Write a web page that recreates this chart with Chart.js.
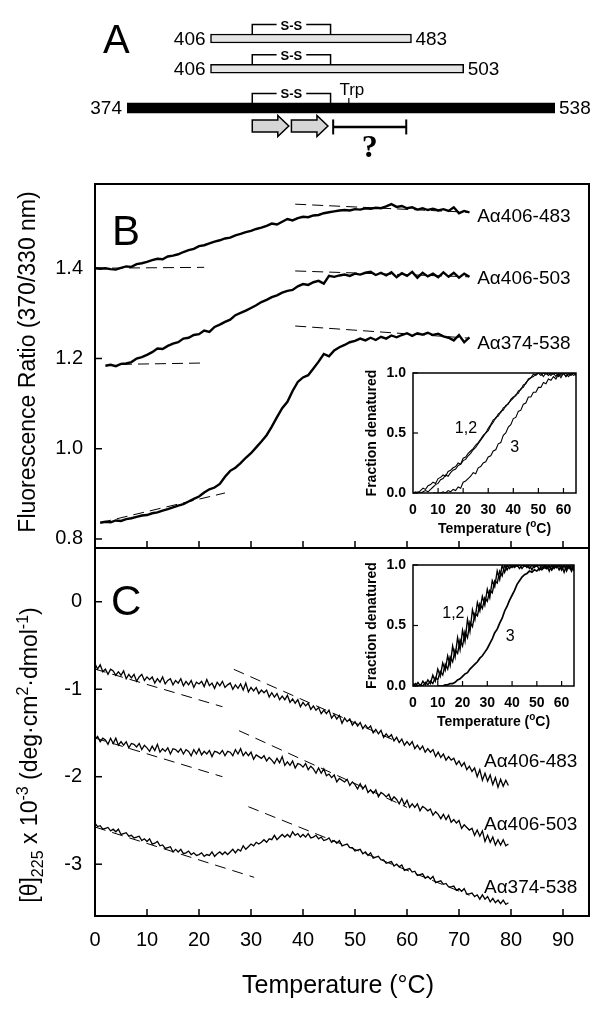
<!DOCTYPE html>
<html>
<head>
<meta charset="utf-8">
<script src="https://cdn.jsdelivr.net/npm/chart.js@4.4.1/dist/chart.umd.min.js"></script>
<style>
  html, body { margin: 0; padding: 0; background: #fff; }
  #wrap { position: relative; width: 604px; height: 1009px; overflow: hidden; background: #fff; }
  #wrap canvas { position: absolute; left: 0; top: 0; }
</style>
</head>
<body>
<div id="wrap">
  <canvas id="chartA" width="604" height="1009"></canvas>
  <canvas id="chartB" width="604" height="1009"></canvas>
  <canvas id="chartC" width="604" height="1009"></canvas>
  <canvas id="insetB" width="604" height="1009"></canvas>
  <canvas id="insetC" width="604" height="1009"></canvas>
</div>
<script>
// --- PANEL A: fragmentos (residuos) ---
const fragStart = [406, 406, 374];
const fragEnd = [483, 503, 538];
const ssBond = [422, 452];
const trpResidue = 459;
const strandSpans = [[422, 436], [437, 451]];
const unknownSpan = [453, 481];

// --- PANEL B: fluorescencia 370/330 nm ---
const tempB = [0,1,2,3,4,5,6,7,8,9,10,11,12,13,14,15,16,17,18,19,20,21,22,23,24,25,26,27,28,29,
  30,31,32,33,34,35,36,37,38,39,40,41,42,43,44,45,46,47,48,49,50,51,52,53,54,55,56,57,58,59,
  60,61,62,63,64,65,66,67,68,69,70,71,72];
const fluor406_483 = [1.400,1.399,1.400,1.398,1.397,1.401,1.404,1.403,1.409,1.411,
  1.414,1.418,1.421,1.420,1.426,1.428,1.431,1.436,1.440,1.443,
  1.449,1.451,1.455,1.459,1.462,1.466,1.468,1.473,1.476,1.480,
  1.483,1.487,1.490,1.494,1.499,1.497,1.503,1.509,1.506,1.511,
  1.514,1.513,1.517,1.518,1.522,1.524,1.526,1.528,1.529,1.528,
  1.531,1.530,1.533,1.532,1.534,1.533,1.537,1.542,1.536,1.538,
  1.533,1.535,1.530,1.533,1.529,1.532,1.528,1.531,1.527,1.535,
  1.522,1.527,1.524];
const fluor406_503 = [null,null,1.184,1.186,1.183,1.188,1.189,1.192,1.200,1.203,
  1.208,1.214,1.222,1.221,1.228,1.233,1.236,1.244,1.246,1.252,
  1.254,1.262,1.259,1.270,1.275,1.281,1.286,1.296,1.301,1.306,
  1.312,1.318,1.325,1.330,1.336,1.340,1.346,1.350,1.352,1.360,
  1.365,1.363,1.369,1.372,1.366,1.383,1.381,1.384,1.386,1.383,
  1.388,1.386,1.390,1.392,1.385,1.390,1.384,1.391,1.380,1.389,
  1.383,1.392,1.379,1.390,1.382,1.388,1.380,1.391,1.381,1.390,
  1.379,1.388,1.381];
const fluor374_538 = [null,0.836,0.838,0.837,0.841,0.840,0.844,0.846,0.849,0.852,
  0.853,0.857,0.859,0.863,0.866,0.870,0.874,0.877,0.883,0.889,
  0.894,0.903,0.910,0.914,0.922,0.938,0.951,0.958,0.968,0.980,
  0.990,1.003,1.016,1.030,1.049,1.070,1.090,1.104,1.128,1.148,
  1.158,1.163,1.178,1.193,1.210,1.205,1.218,1.225,1.230,1.236,
  1.239,1.244,1.240,1.246,1.241,1.248,1.244,1.251,1.247,1.252,
  1.256,1.250,1.256,1.253,1.257,1.252,1.255,1.249,1.246,1.240,
  1.252,1.236,1.247];
// líneas base (temperatura, valor)
const fluorBaselines = [
  [[0, 1.400], [21, 1.402]], [[38.5, 1.542], [72, 1.524]],
  [[5, 1.187], [21, 1.190]], [[38.5, 1.394], [72, 1.381]],
  [[1, 0.836], [25, 0.902]], [[38.5, 1.272], [72, 1.245]]
];
const fluorTicks = [0.8, 1.0, 1.2, 1.4];
const fluorTickLabels = ['0.8', '1.0', '1.2', '1.4'];

// --- PANEL C: elipticidad [θ]225 ---
const tempC = [0,0.5,1,1.5,2,2.5,3,3.5,4,4.5, 5,5.5,6,6.5,7,7.5,8,8.5,9,9.5,
  10,10.5,11,11.5,12,12.5,13,13.5,14,14.5, 15,15.5,16,16.5,17,17.5,18,18.5,19,19.5,
  20,20.5,21,21.5,22,22.5,23,23.5,24,24.5, 25,25.5,26,26.5,27,27.5,28,28.5,29,29.5,
  30,30.5,31,31.5,32,32.5,33,33.5,34,34.5, 35,35.5,36,36.5,37,37.5,38,38.5,39,39.5,
  40,40.5,41,41.5,42,42.5,43,43.5,44,44.5, 45,45.5,46,46.5,47,47.5,48,48.5,49,49.5,
  50,50.5,51,51.5,52,52.5,53,53.5,54,54.5, 55,55.5,56,56.5,57,57.5,58,58.5,59,59.5,
  60,60.5,61,61.5,62,62.5,63,63.5,64,64.5, 65,65.5,66,66.5,67,67.5,68,68.5,69,69.5,
  70,70.5,71,71.5,72,72.5,73,73.5,74,74.5, 75,75.5,76,76.5,77,77.5,78,78.5,79,79.5];
const theta406_483 = [-0.71,-0.77,-0.72,-0.80,-0.77,-0.83,-0.77,-0.79,-0.84,-0.80,
  -0.84,-0.79,-0.88,-0.83,-0.87,-0.83,-0.91,-0.86,-0.83,-0.90,
  -0.86,-0.89,-0.86,-0.93,-0.88,-0.92,-0.86,-0.94,-0.90,-0.88,
  -0.95,-0.90,-0.93,-0.88,-0.96,-0.91,-0.95,-0.90,-0.98,-0.92,
  -0.94,-0.91,-0.97,-0.89,-0.96,-0.93,-0.99,-0.92,-0.96,-0.91,
  -0.98,-0.95,-0.93,-1.00,-0.95,-0.99,-0.94,-1.01,-0.93,-1.03,
  -0.98,-1.02,-0.98,-1.05,-1.01,-1.04,-1.01,-1.09,-1.04,-1.09,
  -1.05,-1.12,-1.08,-1.12,-1.07,-1.15,-1.11,-1.16,-1.12,-1.20,
  -1.15,-1.19,-1.16,-1.23,-1.19,-1.24,-1.21,-1.28,-1.24,-1.28,
  -1.24,-1.33,-1.29,-1.34,-1.30,-1.39,-1.33,-1.37,-1.34,-1.41,
  -1.37,-1.42,-1.38,-1.45,-1.41,-1.45,-1.42,-1.50,-1.46,-1.51,
  -1.47,-1.55,-1.51,-1.55,-1.52,-1.59,-1.55,-1.61,-1.57,-1.64,
  -1.60,-1.64,-1.60,-1.68,-1.64,-1.69,-1.65,-1.72,-1.68,-1.72,
  -1.69,-1.77,-1.72,-1.78,-1.74,-1.81,-1.77,-1.81,-1.79,-1.86,
  -1.82,-1.88,-1.84,-1.92,-1.88,-1.94,-1.90,-2.00,-1.92,-2.04,
  -1.96,-2.05,-1.98,-2.09,-2.01,-2.12,-2.03,-2.11,-2.04,-2.10];
const theta406_503 = [-1.57,-1.54,-1.60,-1.56,-1.58,-1.63,-1.56,-1.62,-1.56,-1.64,
  -1.60,-1.64,-1.60,-1.67,-1.62,-1.63,-1.66,-1.62,-1.69,-1.64,
  -1.67,-1.71,-1.65,-1.70,-1.63,-1.72,-1.68,-1.71,-1.67,-1.74,
  -1.68,-1.69,-1.72,-1.68,-1.74,-1.69,-1.71,-1.76,-1.69,-1.74,
  -1.68,-1.75,-1.71,-1.74,-1.70,-1.77,-1.71,-1.72,-1.74,-1.70,
  -1.76,-1.71,-1.72,-1.76,-1.69,-1.74,-1.68,-1.76,-1.72,-1.76,
  -1.72,-1.80,-1.75,-1.77,-1.79,-1.76,-1.82,-1.78,-1.81,-1.85,
  -1.79,-1.84,-1.77,-1.87,-1.83,-1.87,-1.82,-1.90,-1.85,-1.86,
  -1.89,-1.85,-1.92,-1.88,-1.91,-1.96,-1.90,-1.96,-1.91,-1.99,
  -1.97,-2.01,-1.98,-2.06,-2.02,-2.04,-2.06,-2.03,-2.10,-2.06,
  -2.09,-2.14,-2.08,-2.14,-2.10,-2.18,-2.15,-2.19,-2.15,-2.23,
  -2.18,-2.20,-2.23,-2.20,-2.27,-2.23,-2.26,-2.31,-2.25,-2.32,
  -2.27,-2.35,-2.31,-2.35,-2.31,-2.39,-2.34,-2.36,-2.39,-2.37,
  -2.44,-2.40,-2.43,-2.48,-2.43,-2.49,-2.44,-2.52,-2.49,-2.53,
  -2.50,-2.59,-2.55,-2.58,-2.61,-2.59,-2.67,-2.61,-2.68,-2.62,
  -2.74,-2.67,-2.75,-2.69,-2.78,-2.72,-2.78,-2.72,-2.79,-2.77];
const theta374_538 = [-2.53,-2.57,-2.56,-2.60,-2.59,-2.58,-2.62,-2.60,-2.63,-2.60,
  -2.66,-2.65,-2.64,-2.68,-2.67,-2.70,-2.69,-2.68,-2.73,-2.71,
  -2.74,-2.71,-2.77,-2.76,-2.74,-2.79,-2.78,-2.82,-2.81,-2.80,
  -2.86,-2.83,-2.86,-2.83,-2.88,-2.87,-2.85,-2.89,-2.87,-2.90,
  -2.89,-2.87,-2.91,-2.89,-2.90,-2.86,-2.91,-2.88,-2.86,-2.89,
  -2.86,-2.89,-2.86,-2.83,-2.87,-2.83,-2.85,-2.79,-2.83,-2.80,
  -2.77,-2.79,-2.75,-2.77,-2.75,-2.72,-2.75,-2.71,-2.72,-2.67,
  -2.72,-2.69,-2.66,-2.69,-2.66,-2.69,-2.63,-2.67,-2.65,-2.69,
  -2.66,-2.69,-2.65,-2.70,-2.69,-2.67,-2.71,-2.69,-2.73,-2.72,
  -2.70,-2.75,-2.73,-2.76,-2.73,-2.79,-2.78,-2.77,-2.81,-2.81,
  -2.85,-2.84,-2.83,-2.88,-2.86,-2.90,-2.87,-2.93,-2.92,-2.91,
  -2.95,-2.95,-2.99,-2.98,-2.97,-3.02,-3.00,-3.03,-3.01,-3.07,
  -3.06,-3.05,-3.09,-3.08,-3.13,-3.12,-3.11,-3.16,-3.14,-3.17,
  -3.14,-3.21,-3.20,-3.19,-3.23,-3.22,-3.26,-3.26,-3.25,-3.30,
  -3.28,-3.31,-3.28,-3.34,-3.34,-3.33,-3.37,-3.35,-3.40,-3.35,
  -3.40,-3.37,-3.43,-3.39,-3.44,-3.41,-3.45,-3.41,-3.46,-3.44];
const thetaBaselines = [
  [[0, -0.77], [24.5, -1.20]], [[26.7, -0.773], [58, -1.596]],
  [[0, -1.558], [24.5, -2.00]], [[27.7, -1.474], [60, -2.35]],
  [[0, -2.575], [30.6, -3.15]], [[29.5, -2.343], [72, -3.355]]
];
const thetaTicks = [0, -1, -2, -3];
const thetaTickLabels = ['0', '-1', '-2', '-3'];

const tempTicks = [10, 20, 30, 40, 50, 60, 70, 80, 90];
const tempLabelValues = [0, 10, 20, 30, 40, 50, 60, 70, 80, 90];
const seriesNames = ['Aα406-483', 'Aα406-503', 'Aα374-538'];

// --- INSETS: fracción desnaturalizada ---
const tempInset = [0,1,2,3,4,5,6,7,8,9,10,11,12,13,14,15,16,17,18,19,20,21,22,23,24,25,26,27,28,29,
  30,31,32,33,34,35,36,37,38,39,40,41,42,43,44,45,46,47,48,49,50,51,52,53,54,55,56,57,58,59,
  60,61,62,63,64,65];
const fracB1 = [0.00,0.01,0.00,0.02,0.04,0.03,0.06,0.07,0.09,0.08,0.12,0.13,0.15,0.14,0.18,0.19,0.21,0.22,0.25,0.24,
  0.29,0.30,0.33,0.35,0.37,0.40,0.42,0.45,0.48,0.50,0.54,0.57,0.61,0.62,0.66,0.67,0.71,0.72,0.75,0.77,
  0.79,0.82,0.83,0.87,0.88,0.92,0.94,0.96,0.97,0.99,1.00,0.98,1.00,0.99,1.00,0.98,1.00,0.97,1.00,0.98,
  1.00,0.97,0.99,1.00,0.98,0.99];
const fracB2 = [0.00,0.00,0.01,0.00,0.01,0.02,0.01,0.03,0.05,0.07,0.08,0.11,0.12,0.15,0.14,0.17,0.19,0.20,0.23,0.24,
  0.27,0.28,0.31,0.33,0.36,0.38,0.41,0.44,0.47,0.50,0.52,0.56,0.59,0.63,0.64,0.68,0.69,0.73,0.74,0.78,
  0.80,0.81,0.85,0.86,0.90,0.91,0.95,0.96,0.99,0.98,1.00,1.00,0.97,1.00,0.98,1.00,0.99,1.00,0.97,1.00,
  0.99,1.00,0.97,0.99,1.00,0.98];
const fracB3 = [null,null,null,null,null,null,null,null,0.00,0.00,0.00,0.00,0.01,0.00,0.02,0.01,0.03,0.02,0.05,0.04,
  0.09,0.10,0.12,0.14,0.17,0.16,0.21,0.22,0.25,0.26,0.30,0.31,0.35,0.36,0.41,0.42,0.48,0.50,0.55,0.57,
  0.62,0.63,0.68,0.69,0.74,0.75,0.80,0.80,0.84,0.84,0.88,0.88,0.92,0.91,0.95,0.94,0.97,0.95,0.99,0.96,
  1.00,0.97,1.00,0.98,1.00,0.99];
const fracC1 = [0.02,0.00,0.03,0.00,0.04,0.01,0.05,0.02,0.09,0.04,0.14,0.08,0.19,0.13,0.25,0.17,0.33,0.24,0.40,0.30,
  0.46,0.37,0.55,0.45,0.63,0.55,0.69,0.62,0.74,0.67,0.80,0.73,0.87,0.82,0.95,0.88,1.00,0.94,1.00,0.97,
  1.00,0.98,1.00,0.97,1.00,0.99,1.00,0.97,1.00,0.98,1.00,0.96,1.00,0.98,1.00,0.95,1.00,0.97,1.00,0.96,
  1.00,0.94,1.00,0.97,1.00,0.95];
const fracC2 = [0.00,0.02,0.00,0.01,0.00,0.03,0.01,0.04,0.02,0.07,0.05,0.12,0.09,0.18,0.14,0.24,0.20,0.30,0.27,0.38,
  0.33,0.45,0.40,0.53,0.49,0.60,0.58,0.68,0.64,0.73,0.70,0.79,0.77,0.87,0.85,0.95,0.91,1.00,0.96,1.00,
  0.98,1.00,0.99,1.00,0.97,1.00,0.98,1.00,0.96,1.00,0.99,1.00,0.97,1.00,0.98,1.00,0.96,1.00,0.98,1.00,
  0.97,1.00,0.95,1.00,0.97,1.00];
const fracC3 = [null,null,null,null,null,null,null,null,null,null,0.00,0.00,0.00,0.01,0.01,0.02,0.02,0.03,0.05,0.06,
  0.08,0.10,0.11,0.14,0.16,0.18,0.20,0.23,0.25,0.28,0.31,0.35,0.39,0.44,0.47,0.52,0.56,0.62,0.66,0.71,
  0.75,0.79,0.84,0.87,0.90,0.92,0.93,0.95,0.94,0.96,0.95,0.97,0.96,0.98,0.97,0.99,0.96,0.99,0.98,1.00,
  0.96,1.00,0.97,0.99,0.95,1.00];
const fracTicks = [0, 0.5, 1];
const fracTickLabels = ['0.0', '0.5', '1.0'];
const insetTempTicks = [10, 20, 30, 40, 50, 60];
const insetTempLabels = [0, 10, 20, 30, 40, 50, 60];

// --- ESTILO / DISPOSICIÓN ---
const FONT = '"Liberation Sans", Arial, Helvetica, sans-serif';
const SERIF = '"Liberation Serif", "Times New Roman", serif';
const ROW_POS = [1, 2, 3.3];
const BAR_THICK = [9, 9, 10];
Chart.defaults.font.family = FONT;

// --- UTILERÍAS ---
function pts(temps, vals) {
  const out = [];
  temps.forEach((t, i) => {
    if (vals[i] !== null && vals[i] !== undefined) out.push({ x: t, y: vals[i] });
  });
  return out;
}
function seg(pair) {
  return pair.map(p => ({ x: p[0], y: p[1] }));
}
function lineSet(data, width, dash) {
  return { data, borderColor: '#000', borderWidth: width, borderDash: dash || [],
    pointRadius: 0, fill: false, tension: 0, spanGaps: false };
}
function strokeLine(ctx, x1, y1, x2, y2) {
  ctx.beginPath(); ctx.moveTo(x1, y1); ctx.lineTo(x2, y2); ctx.stroke();
}
// runs: [texto, tamaño, desplazamiento vertical, peso]
function drawRuns(ctx, runs, x, y) {
  let total = 0;
  runs.forEach(r => { ctx.font = `${r[3] || ''} ${r[1]}px ${FONT}`; total += ctx.measureText(r[0]).width; });
  let cx = x - total / 2;
  ctx.textAlign = 'left';
  ctx.textBaseline = 'alphabetic';
  runs.forEach(r => {
    ctx.font = `${r[3] || ''} ${r[1]}px ${FONT}`;
    ctx.fillText(r[0], cx, y + r[2]);
    cx += ctx.measureText(r[0]).width;
  });
}
function drawRotatedRuns(ctx, runs, baseX, centerY) {
  ctx.save();
  ctx.translate(baseX, centerY);
  ctx.rotate(-Math.PI / 2);
  drawRuns(ctx, runs, 0, 0);
  ctx.restore();
}
function baseOptions(pad, xMin, xMax, yMin, yMax) {
  return {
    responsive: false, animation: false, devicePixelRatio: 1, events: [],
    layout: { padding: pad },
    plugins: { legend: { display: false }, tooltip: { enabled: false } },
    scales: {
      x: { type: 'linear', display: false, min: xMin, max: xMax },
      y: { type: 'linear', display: false, min: yMin, max: yMax }
    }
  };
}

// --- EJES / MARCOS ---
function axesPlugin(cfg) {
  return {
    id: 'axes',
    beforeDatasetsDraw(chart) {
      if (!cfg.white) return;
      const a = chart.chartArea;
      chart.ctx.save();
      chart.ctx.fillStyle = '#fff';
      chart.ctx.fillRect(a.left, a.top, a.right - a.left, a.bottom - a.top);
      chart.ctx.restore();
    },
    afterDatasetsDraw(chart) {
      const { ctx, chartArea: a } = chart;
      const xs = chart.scales.x, ys = chart.scales.y;
      ctx.save();
      ctx.strokeStyle = '#000';
      ctx.fillStyle = '#000';
      ctx.lineWidth = cfg.frameWidth;
      ctx.strokeRect(a.left, a.top, a.right - a.left, a.bottom - a.top);
      ctx.lineWidth = cfg.tickWidth;
      cfg.yTicks.forEach(v => {
        const py = ys.getPixelForValue(v);
        strokeLine(ctx, a.left, py, a.left + cfg.tickLen, py);
      });
      cfg.xTicks.forEach(v => {
        const px = xs.getPixelForValue(v);
        strokeLine(ctx, px, a.bottom, px, a.bottom - cfg.tickLen);
      });
      ctx.font = cfg.tickFont;
      ctx.textAlign = 'right';
      ctx.textBaseline = 'middle';
      cfg.yLabels.forEach((s, i) => ctx.fillText(s, a.left - cfg.yLabelGap, ys.getPixelForValue(cfg.yTicks[i])));
      if (cfg.xLabels) {
        ctx.textAlign = 'center';
        cfg.xLabels.forEach(v => ctx.fillText(String(v), xs.getPixelForValue(v), a.bottom + cfg.xLabelOffset));
      }
      if (cfg.xTitle) drawRuns(ctx, cfg.xTitle, cfg.xTitleX || (a.left + a.right) / 2, a.bottom + cfg.xTitleOffset);
      if (cfg.yTitle) drawRotatedRuns(ctx, cfg.yTitle, a.left - cfg.yTitleGap, cfg.yTitleY || (a.top + a.bottom) / 2);
      if (cfg.letter) {
        ctx.font = `42px ${FONT}`;
        ctx.textAlign = 'left';
        ctx.textBaseline = 'alphabetic';
        ctx.fillText(cfg.letter[0], cfg.letter[1], cfg.letter[2]);
      }
      if (cfg.notes) {
        ctx.font = cfg.noteFont;
        ctx.textAlign = cfg.noteAlign;
        ctx.textBaseline = 'middle';
        cfg.notes.forEach(n => ctx.fillText(n.text, xs.getPixelForValue(n.x), ys.getPixelForValue(n.y)));
      }
      ctx.restore();
    }
  };
}

// --- PANEL A ---
const fragmentPlugin = {
  id: 'fragments',
  afterDatasetsDraw(chart) {
    const ctx = chart.ctx;
    const xs = chart.scales.x, ys = chart.scales.y;
    ctx.save();
    ctx.fillStyle = '#000';
    ctx.strokeStyle = '#000';
    ctx.font = `19px ${FONT}`;
    ctx.textBaseline = 'middle';
    fragStart.forEach((s, i) => {
      const py = ys.getPixelForValue(ROW_POS[i]);
      ctx.textAlign = 'right';
      ctx.fillText(String(s), xs.getPixelForValue(s) - 5, py + 1);
      ctx.textAlign = 'left';
      ctx.fillText(String(fragEnd[i]), xs.getPixelForValue(fragEnd[i]) + 4, py + 1);
    });
    const x1 = xs.getPixelForValue(ssBond[0]), x2 = xs.getPixelForValue(ssBond[1]);
    ROW_POS.forEach((r, i) => {
      const top = ys.getPixelForValue(r) - BAR_THICK[i] / 2;
      const yb = top - 9.5;
      ctx.lineWidth = 1.5;
      ctx.beginPath();
      ctx.moveTo(x1, top); ctx.lineTo(x1, yb); ctx.lineTo(x2, yb); ctx.lineTo(x2, top);
      ctx.stroke();
      ctx.font = `bold 13px ${FONT}`;
      const w = ctx.measureText('S-S').width;
      const cx = (x1 + x2) / 2;
      ctx.fillStyle = '#fff';
      ctx.fillRect(cx - w / 2 - 4, yb - 3, w + 8, 6);
      ctx.fillStyle = '#000';
      ctx.textAlign = 'center';
      ctx.textBaseline = 'alphabetic';
      ctx.fillText('S-S', cx, yb + 5);
    });
    const blackC = ys.getPixelForValue(ROW_POS[2]);
    const blackTop = blackC - BAR_THICK[2] / 2;
    const tx = xs.getPixelForValue(trpResidue);
    ctx.lineWidth = 1.2;
    strokeLine(ctx, tx, blackTop, tx, blackTop - 5);
    ctx.font = `17px ${FONT}`;
    ctx.textAlign = 'center';
    ctx.fillText('Trp', tx + 3, blackTop - 8);
    // flechas (hebras)
    const ay = blackC + 18;
    strandSpans.forEach(([s, e]) => {
      const ax1 = xs.getPixelForValue(s), ax2 = xs.getPixelForValue(e);
      const hx = ax2 - 11;
      ctx.beginPath();
      ctx.moveTo(ax1, ay - 6); ctx.lineTo(hx, ay - 6); ctx.lineTo(hx, ay - 10.5);
      ctx.lineTo(ax2, ay); ctx.lineTo(hx, ay + 10.5); ctx.lineTo(hx, ay + 6);
      ctx.lineTo(ax1, ay + 6); ctx.closePath();
      ctx.fillStyle = '#d6d6d6'; ctx.fill();
      ctx.lineWidth = 1.5; ctx.stroke();
    });
    // región desconocida
    const ux1 = xs.getPixelForValue(unknownSpan[0]), ux2 = xs.getPixelForValue(unknownSpan[1]);
    const uy = blackC + 19;
    ctx.lineWidth = 2.5;
    strokeLine(ctx, ux1, uy, ux2, uy);
    ctx.lineWidth = 2;
    strokeLine(ctx, ux1, uy - 7.5, ux1, uy + 7.5);
    strokeLine(ctx, ux2, uy - 7.5, ux2, uy + 7.5);
    ctx.fillStyle = '#000';
    ctx.font = `bold 32px ${SERIF}`;
    ctx.fillText('?', (ux1 + ux2) / 2, blackC + 49);
    ctx.font = `40px ${FONT}`;
    ctx.textAlign = 'left';
    ctx.fillText('A', 103, 53);
    ctx.restore();
  }
};

new Chart(document.getElementById('chartA'), {
  type: 'bar',
  data: {
    datasets: fragStart.map((s, i) => ({
      data: [{ x: [s, fragEnd[i]], y: ROW_POS[i] }],
      backgroundColor: i === 2 ? '#000' : '#e4e4e4',
      borderColor: '#000',
      borderWidth: i === 2 ? 0 : 1.5,
      borderSkipped: false,
      barThickness: BAR_THICK[i],
      grouped: false
    }))
  },
  options: Object.assign(baseOptions({ left: 127, right: 49, top: 0, bottom: 829 }, 374, 538, 0.22, 5.19), {
    indexAxis: 'y'
  }),
  plugins: [fragmentPlugin]
});
// eje y invertido para las filas
Chart.getChart('chartA').options.scales.y.reverse = true;
Chart.getChart('chartA').update();

// --- PANEL B ---
new Chart(document.getElementById('chartB'), {
  type: 'line',
  data: {
    datasets: [
      lineSet(pts(tempB, fluor406_483), 2.4),
      lineSet(pts(tempB, fluor406_503), 2.4),
      lineSet(pts(tempB, fluor374_538), 2.4)
    ].concat(fluorBaselines.map(b => lineSet(seg(b), 1, [11, 6])))
  },
  options: baseOptions({ left: 95, right: 15, top: 184, bottom: 461 }, 0, 95, 0.78, 1.5867),
  plugins: [axesPlugin({
    frameWidth: 2, tickWidth: 1.5, tickLen: 7,
    yTicks: fluorTicks, yLabels: fluorTickLabels, yLabelGap: 12,
    xTicks: tempTicks, tickFont: `20px ${FONT}`,
    yTitle: [['Fluorescence Ratio (370/330 nm)', 23, 0]], yTitleGap: 60, yTitleY: 362,
    letter: ['B', 112, 245],
    noteFont: `19px ${FONT}`, noteAlign: 'left',
    notes: [
      { text: seriesNames[0], x: 73.5, y: 1.514 },
      { text: seriesNames[1], x: 73.5, y: 1.3756 },
      { text: seriesNames[2], x: 73.5, y: 1.2333 }
    ]
  })]
});

// --- PANEL C ---
new Chart(document.getElementById('chartC'), {
  type: 'line',
  data: {
    datasets: [
      lineSet(pts(tempC, theta406_483), 1.3),
      lineSet(pts(tempC, theta406_503), 1.3),
      lineSet(pts(tempC, theta374_538), 1.3)
    ].concat(thetaBaselines.map(b => lineSet(seg(b), 1, [11, 7])))
  },
  options: baseOptions({ left: 95, right: 15, top: 548, bottom: 93 }, 0, 95, -3.592, 0.614),
  plugins: [axesPlugin({
    frameWidth: 2, tickWidth: 1.5, tickLen: 7,
    yTicks: thetaTicks, yLabels: thetaTickLabels, yLabelGap: 13,
    xTicks: tempTicks, xLabels: tempLabelValues, xLabelOffset: 24, tickFont: `20px ${FONT}`,
    xTitle: [['Temperature (°C)', 25, 0]], xTitleOffset: 77, xTitleX: 338,
    yTitle: [['[θ]', 23, 0], ['225', 16, 6], [' x 10', 23, 0], ['-3', 16, -9],
             [' (deg·cm', 23, 0], ['2', 16, -9], ['·dmol', 23, 0], ['-1', 16, -9], [')', 23, 0]],
    yTitleGap: 58, yTitleY: 755,
    letter: ['C', 111, 615],
    noteFont: `19px ${FONT}`, noteAlign: 'left',
    notes: [
      { text: seriesNames[0], x: 74.8, y: -1.829 },
      { text: seriesNames[1], x: 74.8, y: -2.552 },
      { text: seriesNames[2], x: 74.8, y: -3.272 }
    ]
  })]
});

// --- INSETS ---
function insetAxes(notes) {
  return axesPlugin({
    white: true, frameWidth: 1.5, tickWidth: 1.2, tickLen: 5,
    yTicks: fracTicks, yLabels: fracTickLabels, yLabelGap: 7,
    xTicks: insetTempTicks, xLabels: insetTempLabels, xLabelOffset: 17, tickFont: `bold 14px ${FONT}`,
    xTitle: [['Temperature (', 14, 0, 'bold'], ['o', 10, -6, 'bold'], ['C)', 14, 0, 'bold']], xTitleOffset: 40,
    yTitle: [['Fraction denatured', 14, 0, 'bold']], yTitleGap: 37,
    noteFont: `16px ${FONT}`, noteAlign: 'center', notes
  });
}

new Chart(document.getElementById('insetB'), {
  type: 'line',
  data: {
    datasets: [
      lineSet(pts(tempInset, fracB1), 1.1),
      lineSet(pts(tempInset, fracB2), 1.1),
      lineSet(pts(tempInset, fracB3), 1.1)
    ]
  },
  options: baseOptions({ left: 413, right: 28, top: 373, bottom: 516 }, 0, 65, 0, 1),
  plugins: [insetAxes([{ text: '1,2', x: 21.1, y: 0.54 }, { text: '3', x: 40.6, y: 0.38 }])]
});

new Chart(document.getElementById('insetC'), {
  type: 'line',
  data: {
    datasets: [
      lineSet(pts(tempInset, fracC1), 1.4),
      lineSet(pts(tempInset, fracC2), 1.4),
      lineSet(pts(tempInset, fracC3), 1.7)
    ]
  },
  options: baseOptions({ left: 413, right: 30, top: 565, bottom: 323 }, 0, 65, 0, 1),
  plugins: [insetAxes([{ text: '1,2', x: 16.3, y: 0.6 }, { text: '3', x: 39.2, y: 0.41 }])]
});
</script>
</body>
</html>
